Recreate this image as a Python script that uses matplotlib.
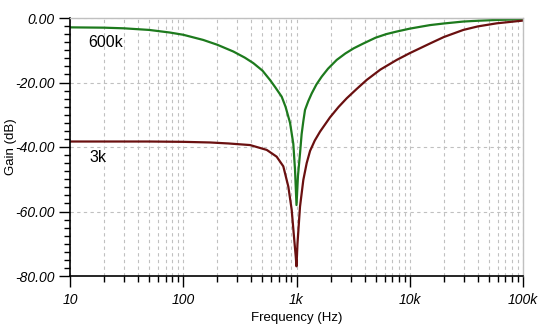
import matplotlib
matplotlib.use("Agg")
import matplotlib.pyplot as plt
from matplotlib.ticker import FixedLocator, LogLocator, NullFormatter, MultipleLocator

# Data
freq_600k = [10, 20, 30, 50, 76, 100, 150, 200, 277, 350, 416, 500, 583, 650, 740,
             800, 877, 937, 970, 1000, 1030, 1074, 1110, 1149, 1189, 1270, 1362,
             1500, 1668, 1900, 2265, 2700, 3200, 3895, 5000, 6200, 7670, 10000,
             12500, 15100, 20000, 29700, 40000, 58600, 100000]
gain_600k = [-2.9, -3.0, -3.2, -3.7, -4.5, -5.2, -6.8, -8.3, -10.4, -12.3, -14.0,
             -16.3, -19.2, -21.5, -24.4, -27.5, -32.5, -39.0, -47.0, -58.0, -49.0,
             -42.0, -36.0, -32.0, -28.5, -25.8, -23.4, -20.6, -18.2, -15.7, -13.0,
             -11.0, -9.4, -7.9, -6.1, -5.0, -4.2, -3.3, -2.7, -2.2, -1.7, -1.1,
             -0.85, -0.6, -0.4]

freq_3k = [10, 50, 100, 173, 250, 389, 546, 668, 765, 847, 907, 950, 985, 1000,
           1020, 1074, 1149, 1230, 1318, 1450, 1616, 1977, 2350, 2775, 3400, 4169,
           5500, 7670, 10000, 15100, 20000, 29700, 40000, 58600, 100000]
gain_3k = [-38.3, -38.3, -38.4, -38.6, -38.9, -39.4, -40.9, -43.0, -46.0, -52.3,
           -59.5, -67.8, -74.0, -77.0, -70.0, -58.5, -50.2, -45.0, -41.2, -38.0,
           -35.2, -30.8, -27.6, -24.9, -22.0, -19.2, -16.0, -13.0, -10.9, -7.9,
           -5.9, -3.7, -2.6, -1.65, -0.8]

xticks = [10, 100, 1000, 10000, 100000]
xtick_labels = ["10", "100", "1k", "10k", "100k"]
yticks = [0, -20, -40, -60, -80]
ytick_labels = ["0.00", "-20.00", "-40.00", "-60.00", "-80.00"]

label_600k = "600k"
label_3k = "3k"

plt.rcParams['font.family'] = ['Liberation Sans', 'DejaVu Sans']

fig = plt.figure(figsize=(5.46, 3.35), dpi=100)
ax = fig.add_axes([70/546, 1-276/335, (523-70)/546, (276-18)/335])

ax.plot(freq_600k, gain_600k, color='#1d7a1d', lw=1.6)
ax.plot(freq_3k, gain_3k, color='#6a1010', lw=1.6)

ax.set_xscale('log')
ax.set_xlim(10, 100000)
ax.set_ylim(-80, 0)

ax.xaxis.set_major_locator(FixedLocator(xticks))
ax.set_xticklabels(xtick_labels, fontstyle='italic', fontsize=10)
ax.xaxis.set_minor_locator(LogLocator(base=10, subs=range(2, 10)))
ax.xaxis.set_minor_formatter(NullFormatter())

ax.yaxis.set_major_locator(FixedLocator(yticks))
ax.set_yticklabels(ytick_labels, fontstyle='italic', fontsize=10)
ax.yaxis.set_minor_locator(MultipleLocator(2.5))

ax.tick_params(axis='both', which='major', length=8, width=1, color='black', pad=3)
ax.tick_params(axis='both', which='minor', length=4, width=1, color='black')
ax.tick_params(axis='x', which='major', pad=4)

grid_kw = dict(color='#c0c0c0', linestyle=(0, (3, 3)), linewidth=0.8)
ax.grid(True, which='major', axis='both', **grid_kw)
ax.grid(True, which='minor', axis='x', **grid_kw)
ax.set_axisbelow(True)

for s in ['top', 'right']:
    ax.spines[s].set_color('#c0c0c0')
    ax.spines[s].set_linewidth(1)
for s in ['left', 'bottom']:
    ax.spines[s].set_color('black')
    ax.spines[s].set_linewidth(1.2)

ax.set_xlabel("Frequency (Hz)", fontsize=9.5, labelpad=4)
ax.set_ylabel("Gain (dB)", fontsize=9.5, va='center')
ax.yaxis.set_label_coords((11 - 70) / 453, (276 - 147) / 258)

ax.text(14.5, -7.7, label_600k, fontsize=11.5, va='center', ha='left')
ax.text(14.8, -43.3, label_3k, fontsize=11.5, va='center', ha='left')

fig.savefig("out.png", dpi=100)
